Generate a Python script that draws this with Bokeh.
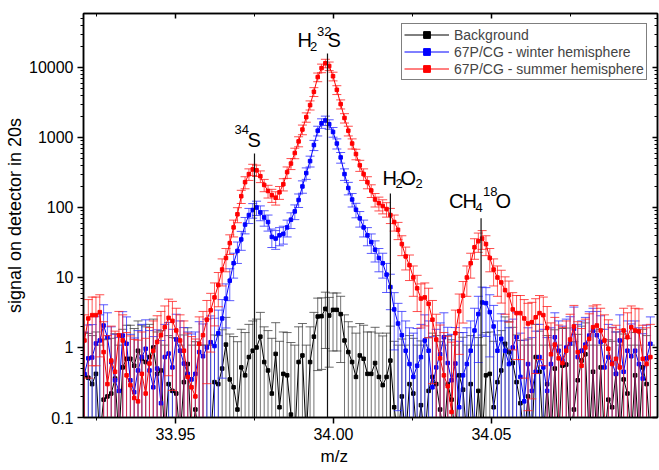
import math
from bokeh.plotting import figure
from bokeh.models import (Range1d, LogAxis, LinearAxis, FixedTicker, CustomJSTickFormatter,
                          PrintfTickFormatter, ColumnDataSource, Legend, LegendItem, Label, Title)
from bokeh.embed import file_html
from bokeh.resources import INLINE

# ---------------- data ----------------
MZ_START = 33.9212   # m/z of first channel
MZ_STEP = 0.00121    # channel spacing

background = [
    0.4, 0.37, 0.3, 0.42, 0.05, 0.18, 0.2, 0.22, 0.36, 0.05,
    0.52, 0.69, 0.69, 0.55, 0.9, 0.69, 0.62, 0.73, 1.0, 0.42,
    0.47, 0.05, 0.3, 0.24, 0.22, 0.05, 0.32, 0.58, 0.05, 0.13,
    0.05, 0.05, 0.05, 0.05, 0.32, 0.3, 0.5, 1.1, 0.35, 0.27,
    0.13, 0.52, 0.4, 0.73, 0.9, 1.0, 1.43, 0.62, 0.47, 0.22,
    0.81, 0.14, 0.42, 0.4, 0.11, 0.05, 0.62, 0.77, 0.05, 0.62,
    1.43, 2.77, 2.8, 3.57, 2.86, 3.45, 3.45, 3.0, 1.26, 0.86,
    0.62, 0.38, 0.77, 0.69, 0.42, 0.42, 0.6, 0.38, 0.29, 0.38,
    0.65, 0.14, 0.05, 0.2, 0.05, 0.3, 0.22, 0.05, 0.15, 0.05,
    0.24, 0.38, 0.3, 0.13, 0.05, 0.3, 0.18, 0.05, 0.4, 0.25,
    0.05, 0.3, 0.05, 0.24, 0.05, 0.4, 0.42, 0.14, 0.32, 0.47,
    1.13, 0.86, 0.6, 0.32, 0.16, 0.05, 0.2, 0.05, 0.73, 0.45,
    0.05, 0.3, 0.05, 0.5, 0.05, 0.55, 0.57, 0.05, 0.13, 0.34,
    0.65, 0.8, 0.05, 0.45, 0.05, 0.52, 0.05, 0.18, 0.14, 0.42,
    0.05, 0.35, 0.22, 0.05, 0.4, 0.05, 0.52, 0.3, 0.05,
]

winter = [
    0.42, 0.7, 0.72, 1.14, 1.26, 2.06, 1.4, 0.62, 0.34, 0.24,
    1.48, 1.13, 0.34, 0.23, 0.47, 0.73, 0.96, 0.47, 0.27, 0.5,
    0.16, 0.73, 0.82, 0.52, 1.3, 0.9, 0.59, 0.42, 0.35, 0.42,
    0.86, 0.75, 1.0, 1.19, 1.05, 1.6, 2.6, 5.0, 9, 16,
    24, 35, 57, 78, 92, 100, 85, 72, 62, 38,
    36, 40, 42, 52, 67, 88, 128, 200, 310, 460,
    780, 1250, 1600, 1750, 1550, 1200, 820, 520, 300, 190,
    130, 93, 70, 52, 40, 32, 25, 19, 16, 11,
    7.3, 3.5, 2.2, 1.5, 0.9, 0.58, 0.38, 0.55, 0.73, 1.26,
    0.9, 0.27, 0.52, 0.8, 1.4, 0.6, 0.34, 0.59, 0.14, 0.4,
    0.58, 0.9, 1.75, 3.0, 4.4, 4.3, 3.2, 2.0, 0.9, 1.33,
    0.9, 0.58, 1.0, 1.4, 0.38, 0.17, 0.58, 0.24, 0.45, 0.73,
    0.52, 0.24, 0.58, 1.4, 0.9, 0.65, 1.0, 1.14, 1.85, 0.73,
    0.9, 1.1, 1.48, 1.75, 1.5, 1.2, 0.52, 0.73, 0.6, 0.42,
    1.26, 0.45, 0.9, 0.75, 0.9, 0.58, 0.36, 0.7, 1.13,
]

summer = [
    1.26, 2.6, 2.9, 2.9, 3.2, 0.86, 0.3, 0.65, 0.45, 1.5,
    1.26, 0.4, 0.29, 0.19, 0.17, 0.42, 0.22, 0.59, 0.9, 1.2,
    1.5, 1.95, 2.65, 2.4, 1.75, 1.26, 0.9, 0.38, 0.27, 0.2,
    1.13, 1.5, 2.5, 3.4, 5.2, 7.8, 13, 19, 31, 52,
    80, 145, 230, 300, 350, 340, 280, 210, 172, 150,
    138, 165, 215, 320, 424, 600, 880, 1300, 1950, 2900,
    4500, 7300, 9800, 11500, 10500, 7500, 4800, 3000, 1900, 1250,
    820, 580, 400, 300, 230, 175, 130, 115, 105, 95,
    78, 62, 48, 30, 20, 15, 10, 7, 5, 5.2,
    4.2, 2.5, 1.3, 0.7, 0.4, 0.28, 0.12, 1.6, 3.3, 5.5,
    10, 16, 27, 33, 36, 30, 19, 13, 10, 8.5,
    6.6, 5.6, 3.5, 3.1, 3.1, 2.6, 2.2, 2.3, 2.7, 3.1,
    2.9, 1.9, 0.8, 1.1, 0.7, 0.6, 0.9, 1.3, 2.0, 0.86,
    0.55, 1.0, 1.33, 1.95, 2.06, 1.75, 1.26, 0.96, 0.58, 0.69,
    0.52, 1.75, 1.4, 1.95, 1.75, 1.7, 0.69, 0.58, 0.73,
]

series_names = ["Background", "67P/CG - winter hemisphere", "67P/CG - summer hemisphere"]
series_values = [background, winter, summer]
series_colors = ["#000000", "#0000ff", "#ff0000"]
errbar_colors = ["#444444", "#3030ff", "#ff2020"]

species_mz = [33.975, 33.9981, 34.018, 34.0467]     # marker lines
species_top = [591, 15850, 158, 70]                   # top of marker lines

x_major = [33.95, 34.00, 34.05]
x_minor = [33.925, 33.975, 34.025, 34.075]
y_major = [0.1, 1, 10, 100, 1000, 10000]
y_minor = [m * 10.0 ** e for e in range(-1, 5) for m in range(2, 10)]

FONT = "Liberation Sans"
Y_MIN, Y_MAX = 0.1, 59070

# ---------------- figure ----------------
p = figure(width=659, height=470, output_backend="svg", toolbar_location=None,
           x_range=Range1d(33.92089, 34.10253), y_range=Range1d(Y_MIN, Y_MAX),
           y_axis_type="log",
           min_border_left=83, min_border_top=13, min_border_bottom=53, min_border_right=2)
p.background_fill_color = "white"
p.border_fill_color = "white"
p.xgrid.visible = False
p.ygrid.visible = False
p.outline_line_color = "black"
p.outline_line_width = 1.5

mz = [round(MZ_START + MZ_STEP * i, 6) for i in range(len(summer))]

legend_items = []
for name, vals, col, ecol in zip(series_names, series_values, series_colors, errbar_colors):
    err = [math.sqrt(v + 1.0) + 0.13 * v for v in vals]   # counting + 13% uncertainty
    up = [v + e for v, e in zip(vals, err)]
    lo = [max(v - e, 0.001) for v, e in zip(vals, err)]
    src = ColumnDataSource(dict(x=mz, y=vals, up=up, lo=lo))
    p.segment(x0="x", y0="lo", x1="x", y1="up", source=src, line_color=ecol,
              line_alpha=0.75, line_width=1)
    p.scatter(x="x", y="up", source=src, marker="dash", size=9, line_color=ecol,
              line_alpha=0.8, line_width=1)
    p.scatter(x="x", y="lo", source=src, marker="dash", size=9, line_color=ecol,
              line_alpha=0.8, line_width=1)
    ln = p.line(x="x", y="y", source=src, line_color=col, line_width=1)
    pts = p.scatter(x="x", y="y", source=src, marker="square", size=3.5,
                    fill_color=col, line_color=col)
    legend_items.append(LegendItem(label=name, renderers=[ln, pts]))

# species marker lines
p.segment(x0=species_mz, y0=[0.05] * len(species_mz), x1=species_mz, y1=species_top,
          line_color="#111111", line_width=1.2)

# ---------------- axes ----------------
p.xaxis.ticker = FixedTicker(ticks=x_major, minor_ticks=x_minor)
p.xaxis.formatter = PrintfTickFormatter(format="%.2f")
p.yaxis.ticker = FixedTicker(ticks=y_major, minor_ticks=y_minor)
p.yaxis.formatter = CustomJSTickFormatter(code="return tick >= 1 ? tick.toFixed(0) : String(tick);")

for ax in (p.xaxis[0], p.yaxis[0]):
    ax.axis_line_width = 1.5
    ax.major_tick_line_width = 1.5
    ax.minor_tick_line_width = 1
    ax.major_tick_out = 6
    ax.major_tick_in = 0
    ax.minor_tick_out = 3
    ax.minor_tick_in = 0
    ax.major_label_text_font = FONT
    ax.major_label_text_font_size = "16px"
    ax.major_label_text_color = "black"
    ax.axis_label_text_font = FONT
    ax.axis_label_text_font_style = "normal"
    ax.axis_label_text_color = "black"

p.xaxis.major_label_standoff = 4
p.yaxis.axis_label = "signal on detector in 20s"
p.yaxis.axis_label_text_font_size = "18px"
p.yaxis.major_label_standoff = 4
p.yaxis.axis_label_standoff = 1

# x-axis title, placed (as in the original) under 34.00 rather than at frame centre
xtitle = Title(text="m/z", align="left", offset=237, standoff=5,
               text_font=FONT, text_font_size="17px", text_font_style="normal",
               text_color="black")
p.add_layout(xtitle, "below")

blank = CustomJSTickFormatter(code="return '';")
top_ax = LinearAxis(ticker=FixedTicker(ticks=x_major, minor_ticks=x_minor), formatter=blank,
                    major_tick_in=5, major_tick_out=0, minor_tick_in=3, minor_tick_out=0,
                    major_label_standoff=0, axis_line_width=1.5, major_tick_line_width=1.5)
right_ax = LogAxis(ticker=FixedTicker(ticks=y_major, minor_ticks=y_minor), formatter=blank,
                   major_tick_in=5, major_tick_out=0, minor_tick_in=3, minor_tick_out=0,
                   major_label_standoff=0, axis_line_width=1.5, major_tick_line_width=1.5)
p.add_layout(top_ax, "above")
p.add_layout(right_ax, "right")

# ---------------- species labels ----------------
def rich_label(x, y, parts):
    for txt, dx, dy, size in parts:
        p.add_layout(Label(x=x, y=y, x_offset=dx, y_offset=dy, text=txt,
                           text_font=FONT, text_font_size=f"{size}px",
                           text_baseline="alphabetic", text_align="left",
                           text_color="black"))

rich_label(species_mz[0], species_top[0], [("34", -20, 24, 13), ("S", -7, 13, 20)])
rich_label(species_mz[1], species_top[1], [("H", -30, 13, 20), ("2", -17.5, 7, 13),
                                           ("32", -10.5, 22, 13), ("S", 0, 13, 20)])
rich_label(species_mz[2], species_top[2], [("H", -8, 16, 20), ("2", 5, 10, 13),
                                           ("O", 10, 16, 20), ("2", 25, 10, 13)])
rich_label(species_mz[3], species_top[3], [("C", -32, 17, 20), ("H", -18.5, 17, 20),
                                           ("4", -5.5, 11, 13), ("18", 2, 27, 13),
                                           ("O", 14.5, 17, 20)])

# ---------------- legend ----------------
legend = Legend(items=legend_items, location=(318, 337),
                border_line_color="black", border_line_width=1,
                background_fill_color="white", background_fill_alpha=1,
                label_text_font=FONT, label_text_font_size="14px",
                label_height=17, glyph_height=17, glyph_width=45,
                label_standoff=5, spacing=0, padding=2, margin=0)
p.add_layout(legend)

open("out.html", "w").write(file_html(p, INLINE))
